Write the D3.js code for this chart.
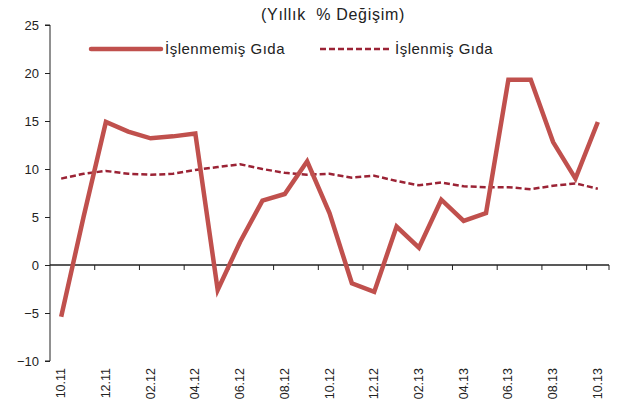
<!DOCTYPE html>
<html>
<head>
<meta charset="utf-8">
<script src="https://cdn.jsdelivr.net/npm/d3@7"></script>
<style>
  body { margin: 0; background: #fff; }
  svg { font-family: "Liberation Sans", Arial, sans-serif; }
  .axis text { font-size: 13px; fill: #222; }
  .axis path, .axis line { stroke: #222; }
</style>
</head>
<body>
<svg id="chart" width="617" height="416"></svg>
<script>
const months = ["10.11","11.11","12.11","01.12","02.12","03.12","04.12","05.12","06.12","07.12","08.12","09.12",
  "10.12","11.12","12.12","01.13","02.13","03.13","04.13","05.13","06.13","07.13","08.13","09.13","10.13"];
const islenmemis = [-5.4, 5.0, 14.9, 13.9, 13.2, 13.4, 13.7, -2.6, 2.4, 6.7, 7.4, 10.8,
  5.4, -1.9, -2.8, 4.0, 1.8, 6.8, 4.6, 5.4, 19.3, 19.3, 12.8, 9.0, 14.9];
const islenmis = [9.0, 9.5, 9.8, 9.5, 9.4, 9.5, 9.9, 10.2, 10.5, 10.0, 9.6, 9.4,
  9.5, 9.1, 9.3, 8.75, 8.3, 8.6, 8.2, 8.1, 8.1, 7.9, 8.25, 8.5, 7.95];
const yTicks = [-10, -5, 0, 5, 10, 15, 20, 25];
const seriesNames = ["İşlenmemiş Gıda", "İşlenmiş Gıda"];

const w = 617, h = 416;
const margins = { left: 50, right: 8, top: 25, bottom: 55 };
const svg = d3.select('#chart');

const xScale = d3.scaleBand()
  .domain(months)
  .range([margins.left, 609]);

const yScale = d3.scaleLinear()
  .domain([-10, 25])
  .range([361, 25]);

// Y AXIS
svg.append('g')
  .attr('class', 'axis')
  .attr('transform', `translate(${margins.left}, 0)`)
  .call(d3.axisLeft(yScale).tickValues(yTicks).tickSize(5).tickPadding(6).tickFormat(d3.format('d')))
  .call(g => g.select('.domain').attr('d', `M-5,${yScale(25)}H0V${yScale(-10)}H-5`));

// X AXIS along zero line
const xAxis = svg.append('g')
  .attr('class', 'axis')
  .attr('transform', `translate(0, ${yScale(0)})`);
xAxis.append('line')
  .attr('x1', margins.left).attr('x2', 609)
  .attr('stroke', '#333').attr('stroke-width', 1.3);
// tick marks between every 2 categories
xAxis.selectAll('.tk')
  .data(months.filter((m, i) => i > 0 && i % 2 === 0))
  .join('line')
  .attr('x1', d => xScale(d)).attr('x2', d => xScale(d))
  .attr('y1', 0).attr('y2', 5)
  .attr('stroke', '#333');
xAxis.append('line')
  .attr('x1', 609).attr('x2', 609).attr('y1', 0).attr('y2', 5).attr('stroke', '#333');

// x tick labels at the bottom, rotated
svg.selectAll('.xlab')
  .data(months.filter((m, i) => i % 2 === 0))
  .join('text')
  .attr('class', 'xlab')
  .attr('transform', d => `translate(${xScale(d) + xScale.bandwidth() / 2 + 4}, 368) rotate(-90)`)
  .attr('text-anchor', 'end')
  .style('font-size', '12.5px')
  .style('fill', '#222')
  .text(d => d);

const line = d3.line()
  .x((d, i) => xScale(months[i]) + xScale.bandwidth() / 2)
  .y(d => yScale(d));

svg.append('path')
  .datum(islenmis)
  .attr('d', line)
  .attr('fill', 'none')
  .attr('stroke', '#9B2335')
  .attr('stroke-width', 2.5)
  .attr('stroke-dasharray', '6,3');

svg.append('path')
  .datum(islenmemis)
  .attr('d', line)
  .attr('fill', 'none')
  .attr('stroke', '#C0504D')
  .attr('stroke-width', 4.5)
  .attr('stroke-linejoin', 'miter');

// TITLE
svg.append('text')
  .attr('x', 333).attr('y', 20)
  .attr('text-anchor', 'middle')
  .style('font-size', '16px')
  .style('letter-spacing', '0.7px')
  .style('white-space', 'pre')
  .style('fill', '#222')
  .text('(Yıllık  % Değişim)');

// LEGEND
const legend = svg.append('g');
legend.append('line')
  .attr('x1', 91).attr('x2', 161).attr('y1', 49).attr('y2', 49)
  .attr('stroke', '#C0504D').attr('stroke-width', 4.5).attr('stroke-linecap', 'round');
legend.append('text')
  .attr('x', 165).attr('y', 54)
  .style('font-size', '15px').style('letter-spacing', '0.5px').style('fill', '#222')
  .text(seriesNames[0]);
legend.append('line')
  .attr('x1', 320).attr('x2', 390).attr('y1', 49).attr('y2', 49)
  .attr('stroke', '#9B2335').attr('stroke-width', 2.5).attr('stroke-dasharray', '6,3');
legend.append('text')
  .attr('x', 395).attr('y', 54)
  .style('font-size', '15px').style('letter-spacing', '0.5px').style('fill', '#222')
  .text(seriesNames[1]);
</script>
</body>
</html>
